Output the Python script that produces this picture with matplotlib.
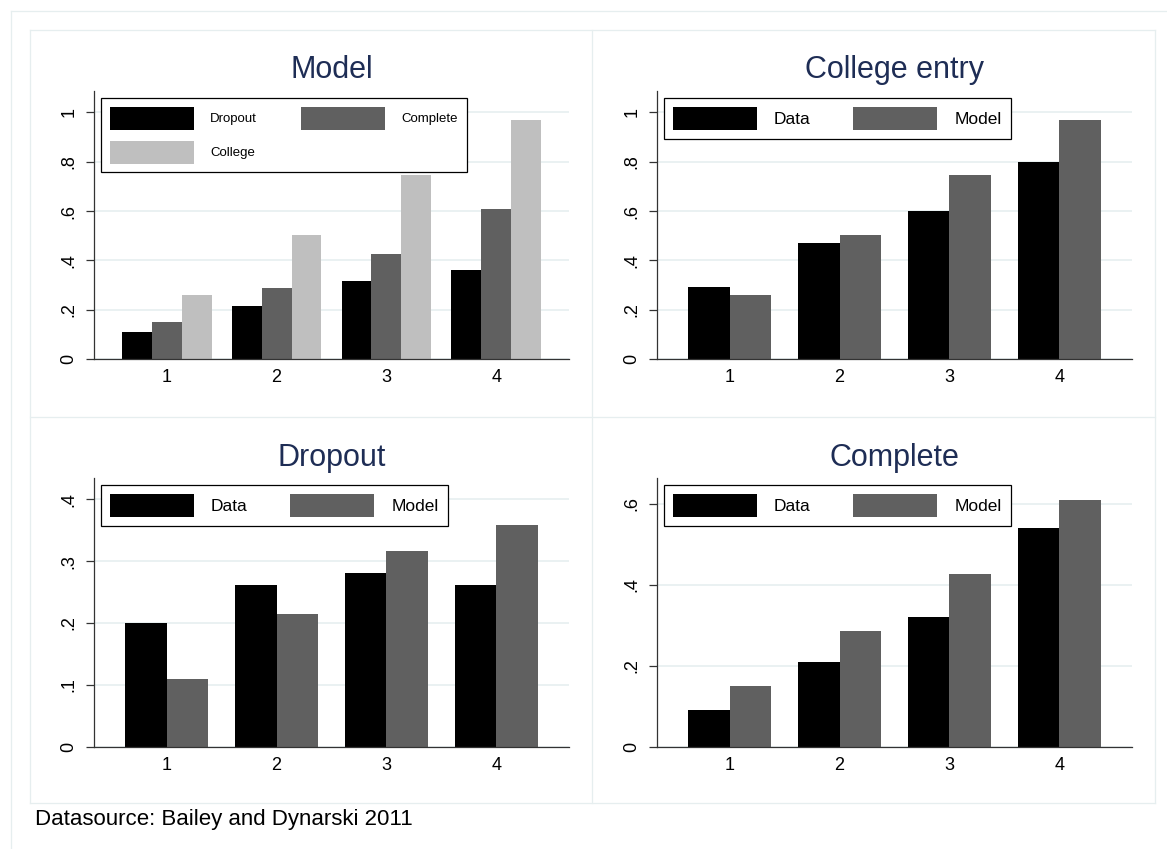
"""
Model fit charts: Dropout / Complete / College entry by group, model vs data
"""

import matplotlib
matplotlib.use('Agg')
import matplotlib.pyplot as plt
from matplotlib.patches import Patch
from matplotlib.lines import Line2D

plt.rcParams['font.family'] = ['Liberation Sans', 'DejaVu Sans']

# Data
groups = [1, 2, 3, 4]
model_dropout = [0.11, 0.215, 0.317, 0.359]
model_complete = [0.15, 0.287, 0.427, 0.609]
model_college = [0.26, 0.501, 0.745, 0.969]
data_college = [0.29, 0.47, 0.60, 0.80]
data_dropout = [0.20, 0.261, 0.281, 0.261]
data_complete = [0.09, 0.21, 0.32, 0.54]

BLACK = '#000000'
DARK = '#606060'
LIGHT = '#bfbfbf'
TITLE_COLOR = '#1e2d55'
FRAME = '#e6eeef'
GRID = '#e8f0f1'

W, H = 1167, 849
fig = plt.figure(figsize=(W / 100, H / 100), dpi=100)


def px_rect(left, top, right, bottom):
    """Pixel box -> figure fraction rect"""
    return [left / W, 1 - bottom / H, (right - left) / W, (bottom - top) / H]


def fmt_tick(v, pos):
    if abs(v) < 1e-9:
        return '0'
    s = f'{v:g}'
    return s[1:] if s.startswith('0.') else s


def style_axis(ax, title, ymax, yticks):
    ax.set_xlim(0.34, 4.66)
    ax.set_ylim(0, ymax)
    ax.set_xticks(groups)
    ax.set_xticklabels([str(g) for g in groups])
    ax.set_yticks(yticks)
    ax.yaxis.set_major_formatter(plt.FuncFormatter(fmt_tick))
    ax.tick_params(axis='x', length=0, pad=7.5, labelsize=13)
    ax.tick_params(axis='y', length=5.8, width=0.9, pad=6, labelsize=13,
                   labelrotation=90, color='#333333')
    for lab in ax.get_yticklabels():
        lab.set_va('center')
    for side in ['top', 'right']:
        ax.spines[side].set_visible(False)
    for side in ['left', 'bottom']:
        ax.spines[side].set_linewidth(0.9)
        ax.spines[side].set_color('#333333')
    ax.yaxis.grid(True, color=GRID, linewidth=1.3)
    ax.set_axisbelow(True)
    ax.text(0.5, 1 + 12.5 / 268, title, transform=ax.transAxes,
            ha='center', va='baseline', fontsize=22, color=TITLE_COLOR)


def add_legend(ax, handles, labels, fontsize, ncol, hl, hh, htp, cs, bp, ls):
    leg = ax.legend(handles, labels, loc='upper left', bbox_to_anchor=(0.0145, 0.974),
                    borderaxespad=0, ncol=ncol, fontsize=fontsize, frameon=True,
                    fancybox=False, shadow=False, framealpha=1, edgecolor='black',
                    handlelength=hl, handleheight=hh, handletextpad=htp,
                    columnspacing=cs, borderpad=bp, labelspacing=ls)
    leg.get_frame().set_linewidth(0.9)
    return leg


def two_bar_panel(ax, title, data_vals, model_vals, ymax, yticks):
    w = 0.38
    x = [g - w / 2 for g in groups]
    x2 = [g + w / 2 for g in groups]
    ax.bar(x, data_vals, width=w, color=BLACK, edgecolor='none')
    ax.bar(x2, model_vals, width=w, color=DARK, edgecolor='none')
    style_axis(ax, title, ymax, yticks)
    handles = [Patch(facecolor=BLACK), Patch(facecolor=DARK)]
    add_legend(ax, handles, ['Data', 'Model'], 12.5, 2,
               4.83, 1.66, 0.98, 2.47, 0.52, 0.5)


# Top left: Model
ax1 = fig.add_axes(px_rect(94, 90.7, 569, 359))
w3 = 0.2725
ax1.bar([g - w3 for g in groups], model_dropout, width=w3, color=BLACK, edgecolor='none')
ax1.bar(groups, model_complete, width=w3, color=DARK, edgecolor='none')
ax1.bar([g + w3 for g in groups], model_college, width=w3, color=LIGHT, edgecolor='none')
style_axis(ax1, 'Model', 1.088, [0, 0.2, 0.4, 0.6, 0.8, 1.0])
# reorder so that rows read Dropout, Complete / College
h3 = [Patch(facecolor=BLACK), Patch(facecolor=LIGHT), Patch(facecolor=DARK)]
add_legend(ax1, h3, ['Dropout', 'College', 'Complete'], 9.5, 2,
           6.36, 2.30, 1.25, 3.3, 0.68, 0.83)

# Top right: College entry
ax2 = fig.add_axes(px_rect(657, 90.7, 1132, 359))
two_bar_panel(ax2, 'College entry', data_college, model_college,
              1.088, [0, 0.2, 0.4, 0.6, 0.8, 1.0])

# Bottom left: Dropout
ax3 = fig.add_axes(px_rect(94, 478.3, 569, 746.7))
two_bar_panel(ax3, 'Dropout', data_dropout, model_dropout,
              0.434, [0, 0.1, 0.2, 0.3, 0.4])

# Bottom right: Complete
ax4 = fig.add_axes(px_rect(657, 478.3, 1132, 746.7))
two_bar_panel(ax4, 'Complete', data_complete, model_complete,
              0.663, [0, 0.2, 0.4, 0.6])


# Panel frames and outer graph region border
def fig_line(x0, y0, x1, y1, color=FRAME, lw=0.9):
    fig.add_artist(Line2D([x0 / W, x1 / W], [1 - y0 / H, 1 - y1 / H],
                          color=color, linewidth=lw, transform=fig.transFigure))


fig_line(11, 11, W, 11)
fig_line(11, 11, 11, H)
fig_line(29.5, 29.5, 1155, 29.5)
fig_line(29.5, 803, 1155, 803)
fig_line(29.5, 29.5, 29.5, 803)
fig_line(1155, 29.5, 1155, 803)
fig_line(592, 29.5, 592, 803)
fig_line(29.5, 417, 1155, 417)

fig.text(35 / W, 1 - 825 / H, 'Datasource: Bailey and Dynarski 2011',
         ha='left', va='baseline', fontsize=16)

plt.savefig('out.png', dpi=100)
plt.close()
